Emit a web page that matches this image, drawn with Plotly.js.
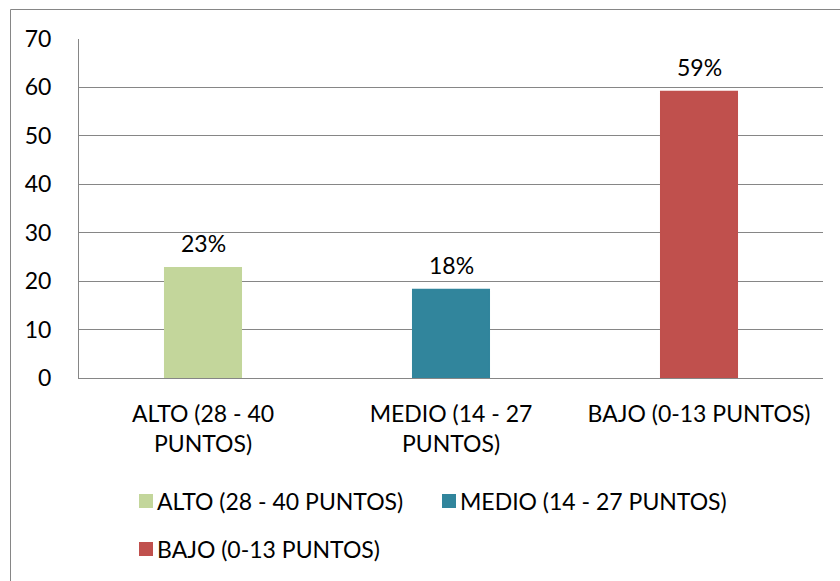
<!DOCTYPE html>
<html>
<head>
<meta charset="utf-8">
<script src="https://cdn.plot.ly/plotly-3.0.1.min.js"></script>
<style>html,body{margin:0;padding:0;background:#fff;}#chart{width:840px;height:581px;}</style>
</head>
<body>
<div id="chart"></div>
<script>
// Data
const categories = ["ALTO (28 - 40 PUNTOS)", "MEDIO (14 - 27 PUNTOS)", "BAJO (0-13 PUNTOS)"];
const tickLabels = ["ALTO (28 - 40<br>PUNTOS)", "MEDIO (14 - 27<br>PUNTOS)", "BAJO (0-13 PUNTOS)"];
const values = [22.7, 18.2, 59.1];
const pctLabels = ["23%", "18%", "59%"];
const colors = ["#C3D69B", "#31859C", "#C0504D"];
const legendIds = ["legend", "legend", "legend2"];
const yTicks = [0, 10, 20, 30, 40, 50, 60, 70];

const FONT = "Lato, 'Open Sans', sans-serif";
const FS = 23;

const traces = categories.map((c, i) => ({
  type: "bar",
  name: c,
  x: [c],
  y: [values[i]],
  width: 0.3066,
  marker: {color: colors[i], line: {width: 2, color: colors[i]}},
  legend: legendIds[i],
  hoverinfo: "skip"
}));

const annotations = categories.map((c, i) => ({
  x: c, y: values[i], xref: "x", yref: "y",
  text: pctLabels[i], showarrow: false,
  yanchor: "middle", yshift: 25,
  font: {family: FONT, size: FS, color: "#000"}
}));

const W = 840, H = 581;
const mL = 79, mR = 17, mT = 39, mB = 203;
const pw = W - mL - mR, ph = H - mT - mB;
function px(x){return (x - mL) / pw;}
function py(y){return (H - mB - y) / ph;}

const legendFont = {family: FONT, size: FS, color: "#000"};
const layout = {
  width: W, height: H,
  margin: {l: mL, r: mR, t: mT, b: mB, pad: 0},
  paper_bgcolor: "#fff", plot_bgcolor: "#fff",
  font: {family: FONT, size: FS, color: "#000"},
  barmode: "overlay",
  showlegend: true,
  xaxis: {
    type: "category",
    categoryorder: "array", categoryarray: categories,
    tickvals: categories, ticktext: tickLabels,
    showgrid: false, zeroline: false,
    showline: true, linecolor: "#868686", linewidth: 1,
    ticks: "", ticklabelstandoff: 15,
    tickfont: {family: FONT, size: FS, color: "#000"},
    fixedrange: true
  },
  yaxis: {
    range: [0, 70], tickvals: yTicks,
    showgrid: true, gridcolor: "#868686", gridwidth: 1,
    zeroline: false,
    showline: true, linecolor: "#868686", linewidth: 1,
    ticks: "", ticklabelstandoff: 22,
    tickfont: {family: FONT, size: FS, color: "#000"},
    fixedrange: true
  },
  legend: {
    orientation: "h", xref: "container", yref: "container",
    x: 126 / W, y: (H - 501) / H, xanchor: "left", yanchor: "middle",
    entrywidthmode: "pixels", entrywidth: 258,
    font: legendFont, bgcolor: "rgba(0,0,0,0)", borderwidth: 0
  },
  legend2: {
    orientation: "h", xref: "container", yref: "container",
    x: 126 / W, y: (H - 549) / H, xanchor: "left", yanchor: "middle",
    font: legendFont, bgcolor: "rgba(0,0,0,0)", borderwidth: 0
  },
  annotations: annotations,
  shapes: [{
    type: "rect", xref: "paper", yref: "paper",
    x0: px(10.5), x1: px(850), y0: py(595), y1: py(9.5),
    line: {color: "#868686", width: 1}, fillcolor: "rgba(0,0,0,0)", layer: "below"
  }]
};

const gdEl = document.getElementById("chart");

function tightenLegend() {
  // place each legend text a small fixed gap to the right of its swatch
  const texts = Array.from(gdEl.querySelectorAll(".infolayer text"))
    .filter(t => categories.indexOf(t.textContent) >= 0);
  texts.forEach(txt => {
    let g = txt.parentNode, sym = null;
    while (g && g !== gdEl && !sym) {
      const paths = g.querySelectorAll ? g.querySelectorAll("path") : [];
      for (const p of paths) {
        const r = p.getBoundingClientRect();
        if (r.width > 4 && r.width < 30 && r.height > 4 && r.height < 30) { sym = p; break; }
      }
      g = g.parentNode;
    }
    if (!sym) return;
    const sr = sym.getBoundingClientRect();
    const tr = txt.getBoundingClientRect();
    const shift = (sr.right + 5) - tr.left;
    if (Math.abs(shift) > 0.5) {
      const prev = parseFloat(txt.getAttribute("data-dx") || "0");
      const dx = prev + shift;
      txt.setAttribute("data-dx", dx);
      txt.setAttribute("transform", "translate(" + dx.toFixed(1) + ",0)");
    }
  });
}

const obs = new MutationObserver(() => tightenLegend());
obs.observe(gdEl, {subtree: true, childList: true});

Plotly.newPlot(gdEl, traces, layout, {displayModeBar: false, staticPlot: true}).then(gd => {
  tightenLegend();
  gd.on("plotly_afterplot", tightenLegend);
  requestAnimationFrame(tightenLegend);
  [0, 50, 200, 500].forEach(ms => setTimeout(tightenLegend, ms));
});
</script>
</body>
</html>
